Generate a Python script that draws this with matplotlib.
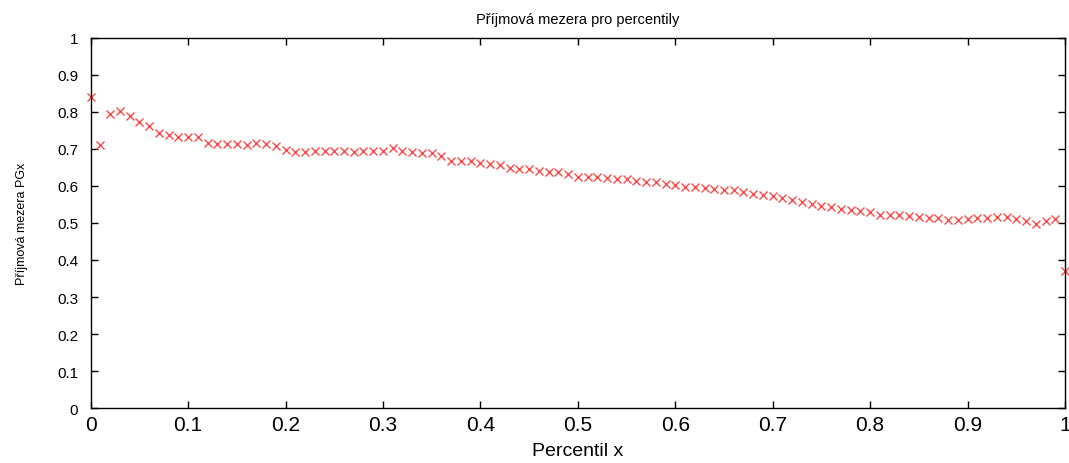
import numpy as np
import matplotlib
matplotlib.use("Agg")
import matplotlib.pyplot as plt

# percentil x (0 .. 1 po 0.01)
percentil = np.round(np.arange(0, 101) / 100, 2)

# příjmová mezera PGx pro jednotlivé percentily
pg = [0.840, 0.712, 0.795, 0.802, 0.790, 0.772, 0.761, 0.744, 0.739, 0.733,
      0.732, 0.732, 0.716, 0.714, 0.714, 0.714, 0.712, 0.715, 0.713, 0.707,
      0.698, 0.693, 0.693, 0.694, 0.695, 0.695, 0.694, 0.693, 0.695, 0.695,
      0.695, 0.702, 0.695, 0.693, 0.690, 0.688, 0.680, 0.668, 0.668, 0.668,
      0.661, 0.659, 0.657, 0.648, 0.647, 0.647, 0.641, 0.637, 0.637, 0.632,
      0.625, 0.625, 0.624, 0.621, 0.620, 0.618, 0.613, 0.611, 0.610, 0.606,
      0.602, 0.598, 0.598, 0.595, 0.592, 0.589, 0.589, 0.584, 0.578, 0.577,
      0.574, 0.568, 0.562, 0.556, 0.550, 0.545, 0.543, 0.538, 0.535, 0.533,
      0.529, 0.522, 0.522, 0.522, 0.520, 0.517, 0.514, 0.514, 0.509, 0.507,
      0.511, 0.514, 0.514, 0.515, 0.517, 0.511, 0.505, 0.496, 0.505, 0.511,
      0.371]

xticks = [0, 0.1, 0.2, 0.3, 0.4, 0.5, 0.6, 0.7, 0.8, 0.9, 1]
yticks = [0, 0.1, 0.2, 0.3, 0.4, 0.5, 0.6, 0.7, 0.8, 0.9, 1]

plt.rcParams['font.family'] = ['Liberation Sans', 'DejaVu Sans']

fig = plt.figure(figsize=(10.69, 4.64), dpi=100)
ax = fig.add_axes([0.0848, 0.1185, 0.9115, 0.7975])

ax.plot(percentil, pg, 'x', color='#ff4a4a', markersize=6, markeredgewidth=1.0,
        clip_on=False)

ax.set_xlim(0, 1)
ax.set_ylim(0, 1)
ax.set_xticks(xticks)
ax.set_xticklabels([f'{t:g}' for t in xticks], fontsize=15)
ax.set_yticks(yticks)
ax.set_yticklabels([f'{t:g}' for t in yticks], fontsize=11)
ax.tick_params(direction='in', top=True, right=True, length=5, width=1)
ax.tick_params(axis='x', pad=5)
ax.tick_params(axis='y', pad=9)
for s in ax.spines.values():
    s.set_linewidth(1)

ax.set_title('Příjmová mezera pro percentily', fontsize=10.5, pad=11)
ax.set_xlabel('Percentil x', fontsize=14, labelpad=6)
ax.set_ylabel('Příjmová mezera PGx', fontsize=9, labelpad=21)

fig.savefig('out.png', dpi=100)
